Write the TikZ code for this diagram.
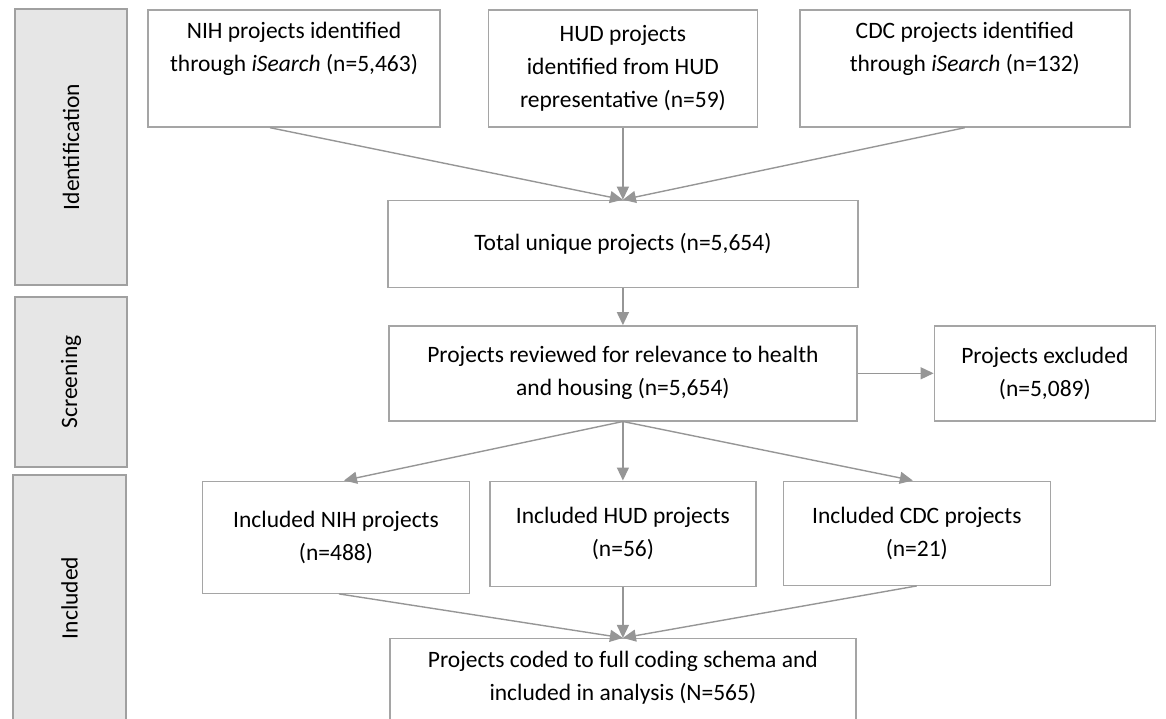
\documentclass[tikz,border=0pt]{standalone}
\usepackage{fontspec}
\setmainfont{Carlito}
\usetikzlibrary{positioning,arrows.meta}
\definecolor{panelfill}{RGB}{230,230,230}
\definecolor{panelline}{RGB}{160,160,160}
\definecolor{boxline}{RGB}{165,165,165}
\definecolor{arrline}{RGB}{150,150,150}
\tikzset{
  box/.style={draw=boxline, line width=1.4pt, align=center, inner sep=0pt,
    font=\fontsize{23.5}{33}\selectfont},
  panel/.style={draw=panelline, fill=panelfill, line width=1.6pt, rotate=90,
    inner sep=0pt, font=\fontsize{23.5}{33}\selectfont},
  arr/.style={draw=arrline, line width=1.4pt, -{Triangle[length=13pt,width=12pt]}}
}
\begin{document}
\begin{tikzpicture}[x=1pt, y=-1pt]
      \clip (0,0) rectangle (1166,719);

      % Stage panels
      \node (pid) [panel, minimum width=276pt, minimum height=112pt] at (71,147) {Identification};
      \node (pscr) [panel, minimum width=170pt, minimum height=112pt] at (71,382) {Screening};
      \node (pinc) [panel, minimum width=246pt, minimum height=113pt] at (69.5,598) {Included};

      % Identification
      \node (nih) [box, minimum width=292pt, minimum height=117pt] at (294,68.5) {NIH projects identified\\through \textit{iSearch} (n=5,463)\\\strut};
      \node (hud) [box, right=47pt of nih, minimum width=269pt, minimum height=117pt] {HUD projects\\identified from HUD\\representative (n=59)};
      \node (cdc) [box, right=41pt of hud, minimum width=330pt, minimum height=117pt] {CDC projects identified\\through \textit{iSearch} (n=132)\\\strut};
      \node (total) [box, below=72pt of hud, minimum width=470pt, minimum height=87pt] {Total unique projects (n=5,654)};

      % Screening
      \node (rev) [box, below=37pt of total, minimum width=468pt, minimum height=95pt] {Projects reviewed for relevance to health\\and housing (n=5,654)};
      \node (excl) [box, right=76pt of rev, minimum width=221pt, minimum height=95pt] {Projects excluded\\(n=5,089)};

      % Included
      \node (inclhud) [box, below=59pt of rev, minimum width=266pt, minimum height=105pt] {Included HUD projects\\(n=56)};
      \node (inclnih) [box, left=19pt of inclhud.north west, anchor=north east, minimum width=267pt, minimum height=112pt] {Included NIH projects\\(n=488)};
      \node (inclcdc) [box, right=26pt of inclhud.north east, anchor=north west, minimum width=267pt, minimum height=104pt] {Included CDC projects\\(n=21)};
      \node (final) [box, below=51pt of inclhud, minimum width=466pt, minimum height=118pt] {Projects coded to full coding schema and\\included in analysis (N=565)\\\strut};

      % Arrows
      \draw[arr] ([xshift=-24pt]nih.south) -- (total.north);
      \draw[arr] (hud) -- (total);
      \draw[arr] (cdc.south) -- (total.north);
      \draw[arr] (total) -- (rev);
      \draw[arr] (rev) -- (excl);
      \draw[arr] (rev.south) -- ([xshift=8pt]inclnih.north);
      \draw[arr] (rev) -- (inclhud);
      \draw[arr] (rev.south) -- ([xshift=-4pt]inclcdc.north);
      \draw[arr] ([xshift=3pt]inclnih.south) -- (final.north);
      \draw[arr] (inclhud) -- (final);
      \draw[arr] (inclcdc.south) -- (final.north);
\end{tikzpicture}
\end{document}
